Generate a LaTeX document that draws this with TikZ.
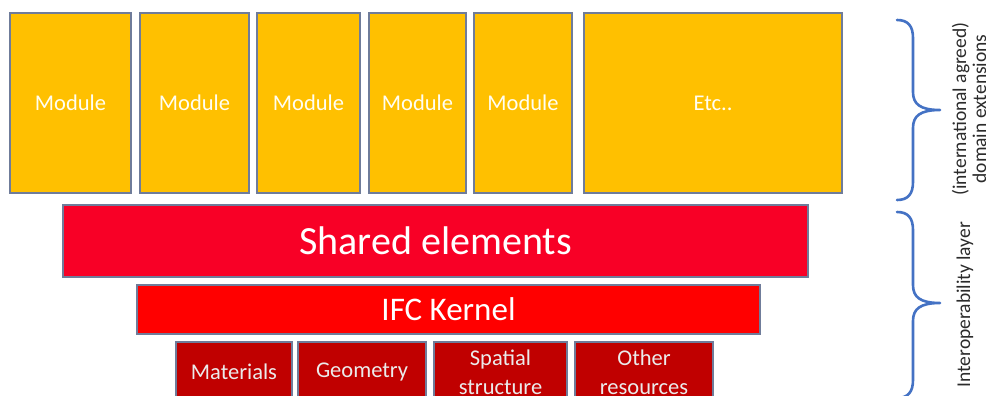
\documentclass[tikz,border=0pt]{standalone}
\usepackage{fontspec}
\setmainfont{Carlito}
\definecolor{modyellow}{HTML}{FFC000}
\definecolor{shared}{HTML}{F80026}
\definecolor{kernel}{HTML}{FF0000}
\definecolor{resred}{HTML}{C00000}
\definecolor{edge}{HTML}{6F7C9A}
\definecolor{brace}{HTML}{4472C4}
\definecolor{sidetext}{HTML}{2B2B2B}
\begin{document}
\begin{tikzpicture}[x=1pt,y=-1pt,
  box/.style={draw=edge, line width=1.2pt, rectangle, inner sep=0pt, text=white, align=center},
  modbox/.style={box, fill=modyellow, minimum height=180pt, font=\fontsize{22.5}{26}\selectfont, text=white!95!yellow},
  resbox/.style={box, fill=resred, minimum height=60pt, font=\fontsize{22.5}{29}\selectfont, text=white!92!black},
  bracestyle/.style={draw=brace, line width=2.6pt, line cap=round, line join=round},
  sidelabel/.style={text=sidetext, rotate=90, font=\fontsize{19.5}{20}\selectfont, align=center}
]
\useasboundingbox (0,0) rectangle (986,396);
\clip (0,0) rectangle (986,396);
% modules
\node[modbox, minimum width=121pt] (m1) at (70.5,103) {Module};
\node[modbox, minimum width=109pt] (m2) at (194.5,103) {Module};
\node[modbox, minimum width=103pt] (m3) at (308.5,103) {Module};
\node[modbox, minimum width=97pt] (m4) at (417.5,103) {Module};
\node[modbox, minimum width=98pt] (m5) at (523,103) {Module};
\node[modbox, minimum width=258pt] (etc) at (713,103) {Etc..};
% shared and kernel
\node[box, fill=shared, minimum width=745pt, minimum height=72pt, font=\fontsize{40}{42}\selectfont] (sh) at (435.5,241) {Shared elements};
\node[box, fill=kernel, minimum width=623pt, minimum height=49pt, font=\fontsize{33}{36}\selectfont] (ifc) at (448.5,309.5) {IFC Kernel};
% resources
\node[resbox, minimum width=116pt] (mat) at (234,372) {Materials};
\node[resbox, minimum width=128pt] (geo) at (362,372) {Geometry};
\node[resbox, minimum width=133pt] (spa) at (500.5,372) {Spatial\\structure};
\node[resbox, minimum width=138pt] (oth) at (644,372) {Other\\resources};
% braces (drawn as shapes)
\draw[bracestyle] (897,20) .. controls (908,20) and (913,26) .. (913,38)
  -- (913,92) .. controls (913,104) and (920,110) .. (940,110)
  .. controls (920,110) and (913,116) .. (913,128)
  -- (913,182) .. controls (913,194) and (908,200) .. (897,200);
\draw[bracestyle] (897,212) .. controls (908,212) and (913,218) .. (913,230)
  -- (913,285) .. controls (913,297) and (920,303) .. (940,303)
  .. controls (920,303) and (913,309) .. (913,321)
  -- (913,380) .. controls (913,392) and (908,398) .. (897,398);
\node[sidelabel] (lab1) at (969,109) {(international agreed)\\domain extensions};
\node[sidelabel, anchor=west] (lab2) at (965,391) {Interoperability layer};
\end{tikzpicture}
\end{document}
